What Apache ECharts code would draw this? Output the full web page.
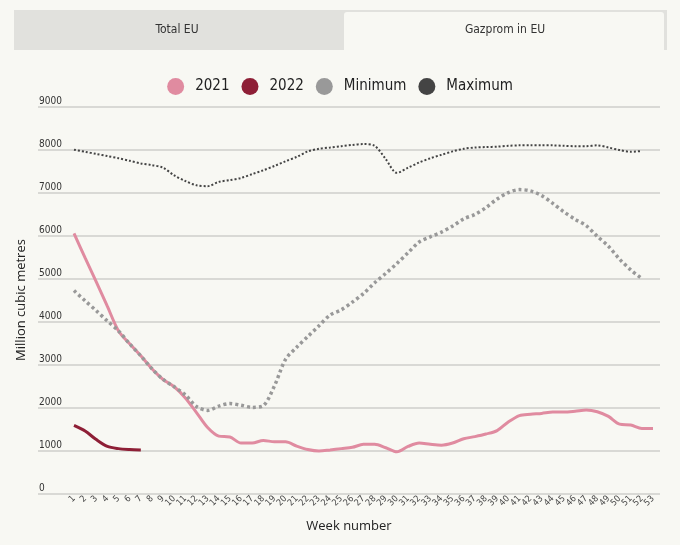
<!DOCTYPE html>
<html>
<head>
<meta charset="utf-8">
<script src="https://cdn.jsdelivr.net/npm/echarts@6/dist/echarts.min.js"></script>
<style>
html,body{margin:0;padding:0;background:#f8f8f3;}
#c{width:680px;height:545px;}
</style>
</head>
<body>
<div id="c"></div>
<script>
var weeks = [];
for (var i = 1; i <= 53; i++) weeks.push(String(i));

var y2021 = [6050,5480,4920,4350,3780,3480,3200,2900,2650,2480,2220,1880,1530,1330,1310,1170,1170,1230,1200,1200,1100,1020,985,1010,1040,1070,1140,1140,1060,965,1090,1170,1140,1120,1170,1270,1320,1380,1460,1660,1810,1840,1860,1890,1890,1910,1940,1900,1790,1610,1590,1510,1510];
var y2022 = [1580,1450,1250,1090,1040,1020,1010];
var yMin = [4720,4480,4250,4010,3780,3480,3200,2900,2650,2480,2290,2020,1930,2030,2090,2050,2000,2040,2500,3120,3400,3650,3900,4150,4270,4450,4650,4900,5120,5350,5600,5850,5970,6080,6220,6390,6490,6650,6850,7000,7070,7040,6930,6750,6550,6380,6230,5980,5750,5450,5200,5000];
var yMax = [8000,7950,7900,7850,7800,7740,7680,7640,7580,7400,7270,7170,7150,7250,7290,7340,7430,7520,7620,7730,7830,7960,8020,8050,8080,8110,8130,8090,7780,7460,7580,7700,7800,7880,7960,8020,8050,8060,8070,8090,8100,8100,8100,8100,8090,8080,8080,8100,8050,7990,7950,7970];

var COND = "'Liberation Sans Narrow','DejaVu Sans Condensed','Roboto',sans-serif";
var REG = "'Open Sans','Noto Sans',sans-serif";

var chart = echarts.init(document.getElementById('c'), null, {renderer:'canvas'});
chart.setOption({
  backgroundColor: '#f8f8f3',
  animation: false,
  graphic: [
    {type:'rect', shape:{x:14,y:10,width:653,height:40}, style:{fill:'#e1e1dd'}, z:0},
    {type:'rect', shape:{x:344,y:12,width:320,height:38,r:[3,3,0,0]}, style:{fill:'#f8f8f3'}, z:1},
    {type:'text', x:177, y:30, style:{text:'Total EU', fill:'#333', font:'12px '+COND, align:'center', verticalAlign:'middle'}, z:2},
    {type:'text', x:505, y:30, style:{text:'Gazprom in EU', fill:'#333', font:'12px '+COND, align:'center', verticalAlign:'middle'}, z:2}
  ],
  legend: {
    top: 73, left: 'center',
    icon: 'circle', itemWidth: 17, itemHeight: 17, itemGap: 12,
    textStyle: {fontSize: 15, color: '#222', fontFamily: COND, padding:[0,0,0,6]},
    data: ['2021','2022','Minimum','Maximum']
  },
  grid: [
    {left:38, right:20, top:106.7, bottom:51.7},
    {left:74, right:27, top:106.7, bottom:51.7}
  ],
  xAxis: [
    {gridIndex:0, type:'value', min:0, max:1, axisLine:{show:false}, axisTick:{show:false}, axisLabel:{show:false}, splitLine:{show:false},
     name:'Week number', nameLocation:'middle', nameGap:26, nameTextStyle:{fontSize:13, color:'#222', fontFamily:REG}},
    {gridIndex:1, type:'category', data:weeks, boundaryGap:false,
     axisLine:{show:false}, axisTick:{show:false},
     axisLabel:{interval:0, rotate:45, fontSize:9, color:'#444', margin:4, fontFamily:COND}}
  ],
  yAxis: [
    {gridIndex:0, type:'value', min:0, max:9000, interval:1000,
     axisLine:{show:false}, axisTick:{show:false},
     splitLine:{lineStyle:{color:'#cfcfcb', width:1.5}},
     axisLabel:{inside:true, margin:1, align:'left', verticalAlign:'bottom', fontSize:10, color:'#333', fontFamily:COND,
       formatter:function(v){return String(v);}},
     name:'Million cubic metres', nameLocation:'middle', nameGap:4, nameTextStyle:{fontSize:13, color:'#222', fontFamily:REG}},
    {gridIndex:1, type:'value', min:0, max:9000, show:false, splitLine:{show:false}}
  ],
  series: [
    {name:'2021', type:'line', xAxisIndex:1, yAxisIndex:1, data:y2021, showSymbol:false, smooth:0.3,
     itemStyle:{color:'#e08ba0'}, lineStyle:{color:'#e08ba0', width:3}},
    {name:'2022', type:'line', xAxisIndex:1, yAxisIndex:1, data:y2022, showSymbol:false, smooth:0.3,
     itemStyle:{color:'#8e1f36'}, lineStyle:{color:'#8e1f36', width:3}},
    {name:'Minimum', type:'line', xAxisIndex:1, yAxisIndex:1, data:yMin, showSymbol:false, smooth:0.3,
     itemStyle:{color:'#999999'}, lineStyle:{color:'#999999', width:3.5, type:[3,3]}},
    {name:'Maximum', type:'line', xAxisIndex:1, yAxisIndex:1, data:yMax, showSymbol:false, smooth:0.3,
     itemStyle:{color:'#444444'}, lineStyle:{color:'#444444', width:2, type:[2,2]}}
  ]
});
</script>
</body>
</html>
